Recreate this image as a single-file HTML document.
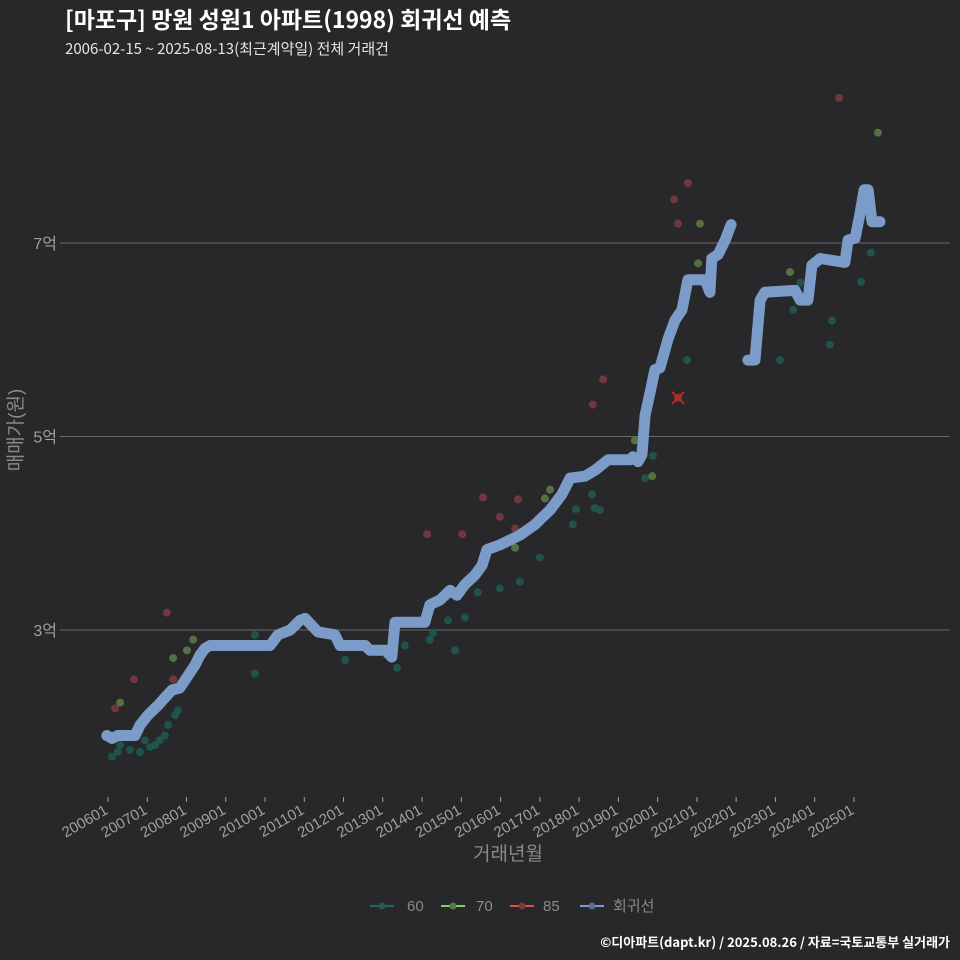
<!DOCTYPE html>
<html><head><meta charset="utf-8">
<style>
body{margin:0;background:#282729;}
svg{display:block;font-family:"Liberation Sans","Noto Sans CJK KR",sans-serif;}
</style></head>
<body>
<svg id="chart" width="960" height="960" viewBox="0 0 960 960" xmlns="http://www.w3.org/2000/svg">
<rect width="960" height="960" fill="#282729"/>
<text x="65" y="28" fill="#ffffff" font-size="23" font-weight="bold" font-family="Noto Sans CJK KR, sans-serif">[마포구] 망원 성원1 아파트(1998) 회귀선 예측</text>
<text x="65" y="54" fill="#e6e6e6" font-size="15" font-family="Noto Sans CJK KR, sans-serif">2006-02-15 ~ 2025-08-13(최근계약일) 전체 거래건</text>
<g id="grid"></g>
<g id="xaxis"></g>
<g id="yaxis"></g>
<g id="dots"></g>
<g id="lines"></g>
<text x="22" y="430" fill="#8a8a8a" font-size="19" text-anchor="middle" transform="rotate(-90 22 430)">매매가(원)</text>
<text x="508" y="860" fill="#8a8a8a" font-size="19" text-anchor="middle">거래년월</text>
<g font-size="15" fill="#8a8a8a">
  <g><line x1="370" y1="906" x2="394" y2="906" stroke="#1f6b66" stroke-width="2"/><circle cx="382" cy="906" r="3.5" fill="#2a5a4e"/><text x="407" y="911">60</text></g>
  <g><line x1="441" y1="906" x2="465" y2="906" stroke="#7fd36a" stroke-width="2"/><circle cx="453" cy="906" r="3.5" fill="#5a7a45"/><text x="476" y="911">70</text></g>
  <g><line x1="510" y1="906" x2="534" y2="906" stroke="#d9534f" stroke-width="2"/><circle cx="522" cy="906" r="3.5" fill="#7a3a40"/><text x="543" y="911">85</text></g>
  <g><line x1="580" y1="906" x2="604" y2="906" stroke="#7b9cc8" stroke-width="2"/><circle cx="592" cy="906" r="3.5" fill="#5a6f8f"/><text x="613" y="911">회귀선</text></g>
</g>
<text x="950" y="947" fill="#ffffff" font-size="13" font-weight="bold" font-family="Noto Sans CJK KR, sans-serif" text-anchor="end">©디아파트(dapt.kr) / 2025.08.26 / 자료=국토교통부 실거래가</text>
</svg>
<script>
const yTicks = [3, 5, 7];
const yTickLabels = ["3억", "5억", "7억"];
const xTickYears = [2006,2007,2008,2009,2010,2011,2012,2013,2014,2015,2016,2017,2018,2019,2020,2021,2022,2023,2024,2025];
const xTickLabels = ["200601","200701","200801","200901","201001","201101","201201","201301","201401","201501","201601","201701","201801","201901","202001","202101","202201","202301","202401","202501"];
const trendDates1 = [2005.97,2006.10,2006.25,2006.69,2006.82,2007.02,2007.27,2007.40,2007.63,2007.83,2008.04,2008.22,2008.34,2008.47,2008.60,2008.98,2010.13,2010.33,2010.64,2010.89,2011.02,2011.35,2011.78,2011.91,2012.55,2012.67,2013.06,2013.23,2013.31,2014.07,2014.20,2014.46,2014.71,2014.89,2015.09,2015.35,2015.53,2015.65,2015.98,2016.24,2016.49,2016.88,2017.00,2017.26,2017.56,2017.77,2018.15,2018.40,2018.74,2019.30,2019.37,2019.50,2019.60,2019.68,2019.81,2019.93,2020.06,2020.26,2020.44,2020.62,2020.77,2021.21,2021.33,2021.38,2021.54,2021.72,2021.87];
const trendValues1 = [1.91,1.88,1.91,1.91,2.02,2.12,2.22,2.28,2.38,2.40,2.53,2.64,2.74,2.81,2.84,2.84,2.84,2.95,3.00,3.10,3.12,2.98,2.95,2.84,2.84,2.79,2.79,2.72,3.08,3.08,3.26,3.31,3.41,3.36,3.47,3.57,3.67,3.83,3.88,3.93,3.98,4.09,4.14,4.24,4.40,4.57,4.59,4.65,4.76,4.76,4.79,4.74,4.81,5.22,5.46,5.69,5.71,6.00,6.20,6.31,6.62,6.62,6.49,6.84,6.88,7.03,7.19];
const trendDates2 = [2022.30,2022.48,2022.61,2022.73,2023.50,2023.63,2023.83,2023.93,2024.14,2024.77,2024.85,2025.03,2025.15,2025.26,2025.36,2025.46,2025.66];
const trendValues2 = [5.79,5.79,6.41,6.49,6.51,6.41,6.41,6.77,6.84,6.80,7.03,7.05,7.29,7.55,7.55,7.22,7.22];
const dates60 = [2006.10,2006.25,2006.31,2006.56,2006.82,2006.94,2007.07,2007.20,2007.32,2007.45,2007.53,2007.71,2007.78,2009.74,2009.74,2012.04,2013.36,2013.56,2014.20,2014.28,2014.66,2014.84,2015.09,2015.42,2015.98,2016.49,2017.00,2017.84,2017.92,2018.33,2018.40,2018.53,2019.68,2019.88,2020.75,2023.12,2023.45,2023.63,2024.39,2024.44,2025.18,2025.43];
const values60 = [1.69,1.74,1.81,1.76,1.74,1.86,1.79,1.81,1.86,1.91,2.02,2.12,2.17,2.55,2.95,2.69,2.61,2.84,2.90,2.97,3.10,2.79,3.13,3.39,3.43,3.50,3.75,4.09,4.25,4.40,4.26,4.24,4.57,4.80,5.79,5.79,6.31,6.59,5.95,6.20,6.60,6.90];
const dates70 = [2006.31,2007.66,2008.01,2008.17,2016.37,2017.13,2017.26,2019.42,2019.86,2021.03,2021.08,2023.37,2025.61];
const values70 = [2.25,2.71,2.79,2.90,3.85,4.36,4.45,4.96,4.59,6.79,7.20,6.70,8.14];
const dates85 = [2006.18,2006.66,2007.50,2007.66,2014.13,2015.02,2015.55,2015.98,2016.37,2016.44,2018.35,2018.61,2020.42,2020.52,2020.77,2024.62];
const values85 = [2.19,2.49,3.18,2.49,3.99,3.99,4.37,4.17,4.05,4.35,5.33,5.59,7.45,7.20,7.62,8.50];
const outlierDate = [2020.52];
const outlierValue = [5.40];

const NS = "http://www.w3.org/2000/svg";
function xs(t){ return 108 + (t - 2006) * 39.26; }
function ys(v){ return 630 - (v - 3) * 96.75; }
function mk(tag, attrs, parent){
  const e = document.createElementNS(NS, tag);
  for (const k in attrs) e.setAttribute(k, attrs[k]);
  parent.appendChild(e);
  return e;
}
const grid = document.getElementById('grid');
const yax = document.getElementById('yaxis');
yTicks.forEach((v, i) => {
  const l = mk('line', {x1: 60, x2: 950, y1: ys(v), y2: ys(v), stroke: '#6a6a6a', 'stroke-width': 1}, grid);
  
  
  const t = mk('text', {x: 57, y: ys(v) + 6, fill: '#a0a0a0', 'font-size': 16, 'text-anchor': 'end'}, yax);
  t.textContent = yTickLabels[i];
  
  
});
const xax = document.getElementById('xaxis');
xTickYears.forEach((yr, i) => {
  const x = xs(yr);
  const tk = mk('line', {x1: x, x2: x, y1: 797, y2: 802, stroke: '#a0a0a0', 'stroke-width': 1}, xax);
  
  
  const t = mk('text', {x: x + 1, y: 813, fill: '#a0a0a0', 'font-size': 15, 'text-anchor': 'end', transform: `rotate(-30 ${x + 1} 813)`}, xax);
  t.textContent = xTickLabels[i];
  
  
});
const dots = document.getElementById('dots');
function drawDots(d, v, fill, name){
  d.forEach((t, i) => {
    const c = mk('circle', {cx: xs(t), cy: ys(v[i]), r: 4, fill: fill, 'fill-opacity': 0.9}, dots);
    
    
  });
}
drawDots(dates60, values60, '#1f5a4c', 'point-60');
drawDots(dates70, values70, '#5a7a45', 'point-70');
drawDots(dates85, values85, '#7a3a40', 'point-85');
const lines = document.getElementById('lines');
function drawLine(d, v){
  const pts = d.map((t, i) => xs(t).toFixed(1) + ',' + ys(v[i]).toFixed(1)).join(' ');
  const p = mk('polyline', {points: pts, fill: 'none', stroke: '#7b9cc8', 'stroke-width': 11, 'stroke-linejoin': 'round', 'stroke-linecap': 'round'}, lines);
  
  
}
drawLine(trendDates1, trendValues1);
drawLine(trendDates2, trendValues2);
outlierDate.forEach((t, i) => {
  const x = xs(t), y = ys(outlierValue[i]);
  const g = mk('g', {}, dots);
  
  
  mk('circle', {cx: x, cy: y, r: 4, fill: '#7a3a40'}, g);
  mk('line', {x1: x - 6, y1: y - 6, x2: x + 6, y2: y + 6, stroke: '#c02828', 'stroke-width': 2}, g);
  mk('line', {x1: x - 6, y1: y + 6, x2: x + 6, y2: y - 6, stroke: '#c02828', 'stroke-width': 2}, g);
});
</script>
</body></html>
